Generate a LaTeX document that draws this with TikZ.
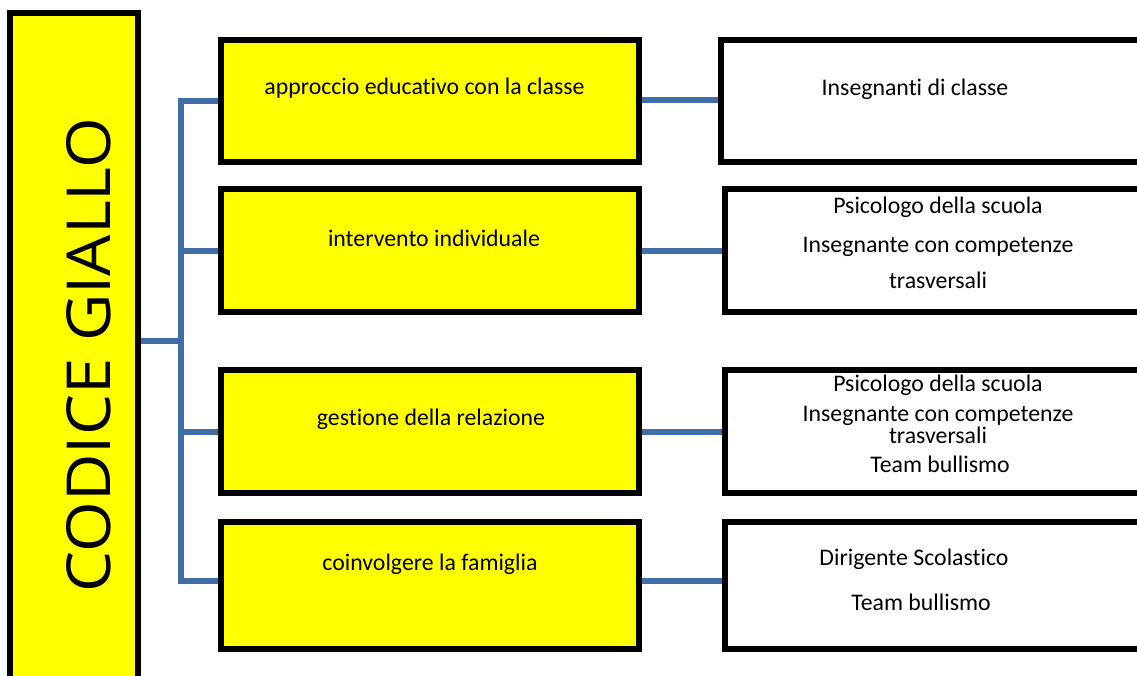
\documentclass[tikz,border=0pt]{standalone}
\usepackage{fontspec}
\setmainfont{Carlito}[Ligatures={NoCommon}]
\newfontfamily\titlefont{Open Sans}
\usepackage{graphicx}
\usetikzlibrary{backgrounds}
\definecolor{yel}{RGB}{255,255,0}
\definecolor{connblue}{RGB}{66,110,168}
\begin{document}
\begin{tikzpicture}[x=1pt,y=-1pt,
  box/.style={draw=black, line width=6pt, rectangle, inner sep=0pt, line join=miter},
  ybox/.style={box, fill=yel, minimum width=418pt},
  wbox/.style={box, fill=white},
  conn/.style={draw=connblue, line width=6pt, line join=miter},
  lbl/.style={font=\fontsize{23.8}{27}\selectfont, inner sep=0pt, anchor=base}]
\useasboundingbox (0,0) rectangle (1137,675);
\begin{scope}
\clip (0,0) rectangle (1137,675);
% left title box
\node[box, fill=yel, minimum width=128pt, minimum height=690pt] (lb) at (74,358) {};
\node[rotate=90, inner sep=0pt] (title) at (88.5,355) {\resizebox{474pt}{44pt}{\titlefont CODICE GIALLO}};
% yellow boxes
\node[ybox, minimum height=122pt] (y1) at (430,101) {};
\node[ybox, minimum height=123pt] (y2) at (430,250.5) {};
\node[ybox, minimum height=123pt] (y3) at (430,431.5) {};
\node[ybox, minimum height=127pt] (y4) at (430,585.5) {};
% white boxes
\node[wbox, minimum width=429pt, minimum height=122pt] (w1) at (935.5,101) {};
\node[wbox, minimum width=425pt, minimum height=123pt] (w2) at (937.5,250.5) {};
\node[wbox, minimum width=425pt, minimum height=123pt] (w3) at (937.5,431.5) {};
\node[wbox, minimum width=425pt, minimum height=127pt] (w4) at (937.5,585.5) {};
\end{scope}
% labels
\node[lbl] (t1) at (424.5,94) {approccio educativo con la classe};
\node[lbl] (t2) at (434,246) {intervento individuale};
\node[lbl] (t3) at (431,425) {gestione della relazione};
\node[lbl] (t4) at (430,570) {coinvolgere la famiglia};
\node[lbl] (r1) at (915,95) {Insegnanti di classe};
\node[lbl] (r2a) at (938,213) {Psicologo della scuola};
\node[lbl] (r2b) at (938,252) {Insegnante con competenze};
\node[lbl] (r2c) at (938,288) {trasversali};
\node[lbl] (r3a) at (938,391) {Psicologo della scuola};
\node[lbl] (r3b) at (938,421) {Insegnante con competenze};
\node[lbl] (r3c) at (938,443) {trasversali};
\node[lbl] (r3d) at (940,472) {Team bullismo};
\node[lbl] (r4a) at (914,565) {Dirigente Scolastico};
\node[lbl] (r4b) at (921,610) {Team bullismo};
% connectors
\coordinate (bus) at (181,341);
\coordinate (b1) at (181,101);
\coordinate (b4) at (181,581);
\begin{scope}[on background layer]
\draw[conn] (lb.east |- bus) -- (bus);
\draw[conn] (y1.west) -- (b1) -- (b4) -- (b4 -| y4.west);
\draw[conn] (y2.west) -- (y2.west -| bus);
\draw[conn] (y3.west) -- (y3.west -| bus);
\draw[conn] (y1.east |- 0,100) -- (w1.west |- 0,100);
\draw[conn] (y2.east) -- (w2.west);
\draw[conn] (y3.east) -- (w3.west);
\draw[conn] (y4.east |- b4) -- (w4.west |- b4);
\end{scope}
\end{tikzpicture}
\end{document}
